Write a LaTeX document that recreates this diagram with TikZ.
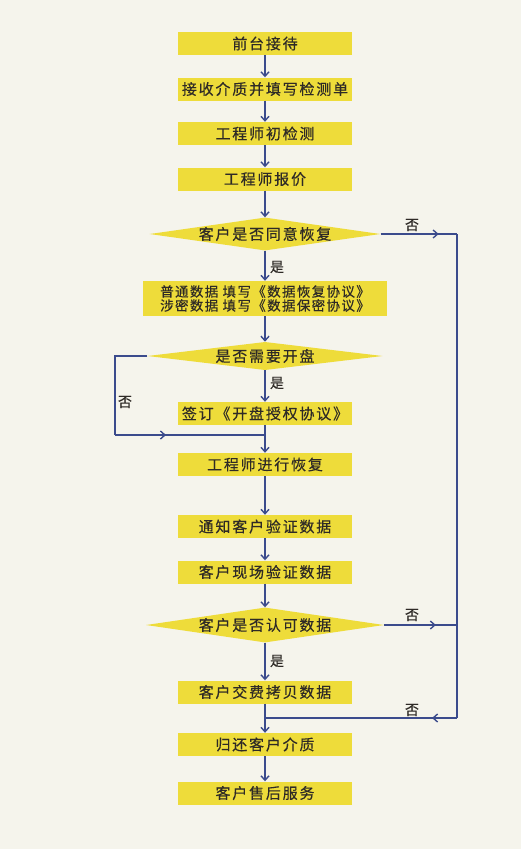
\documentclass[tikz,border=0pt]{standalone}
\usepackage{fontspec}
\usetikzlibrary{shapes.geometric,arrows.meta,decorations.markings}
\newfontfamily\cjk[LetterSpace=12,FakeBold=0.4]{Noto Sans CJK SC}
\newfontfamily\cjksmall[LetterSpace=10,FakeBold=0.4]{Noto Sans CJK SC}
\definecolor{bgc}{HTML}{F5F4EC}
\definecolor{boxy}{HTML}{EEDC3A}
\definecolor{linec}{HTML}{3B4B8C}
\definecolor{txt}{HTML}{2E2A26}
\begin{document}
\begin{tikzpicture}[x=1pt,y=-1pt,
  every node/.style={text=txt},
  stepbox/.style={fill=boxy, draw=none, minimum width=174pt, minimum height=23pt, inner sep=0pt, font=\cjk\fontsize{15}{16}\selectfont},
  widebox/.style={fill=boxy, draw=none, minimum width=244pt, minimum height=35pt, inner sep=0pt, align=center, font=\cjksmall\fontsize{13.5}{14}\selectfont},
  decide/.style={diamond, fill=boxy, draw=none, inner sep=0pt, aspect=7, font=\cjk\fontsize{15}{16}\selectfont},
  lbl/.style={font=\cjk\fontsize{14}{15}\selectfont, inner sep=0pt},
  conn/.style={draw=linec, line width=1.4pt},
  arr/.style={conn, -{Straight Barb[length=4.5pt,width=8pt]}},
  midarrow/.style={postaction={decorate}, decoration={markings, mark=at position #1 with {\arrow[linec, line width=1.4pt]{Straight Barb[length=4.5pt,width=8pt]}}}}
]
\fill[bgc] (0,0) rectangle (521,849);
\useasboundingbox (0,0) rectangle (521,849);

\node[stepbox] (b1) at (265,43.5) {前台接待};
\node[stepbox] (b2) at (265,89) {接收介质并填写检测单};
\node[stepbox] (b3) at (265,133.5) {工程师初检测};
\node[stepbox] (b4) at (265,179) {工程师报价};
\node[decide, minimum width=226pt, minimum height=32pt] (d1) at (265,234) {客户是否同意恢复};
\node[widebox] (b5) at (265,298.5) {普通数据 填写《数据恢复协议》\\涉密数据 填写《数据保密协议》};
\node[decide, minimum width=235pt, minimum height=27pt] (d2) at (265,356) {是否需要开盘};
\node[stepbox] (b6) at (265,413.5) {签订《开盘授权协议》};
\node[stepbox] (b7) at (265,464.5) {工程师进行恢复};
\node[stepbox] (b8) at (265,526.5) {通知客户验证数据};
\node[stepbox] (b9) at (265,572) {客户现场验证数据};
\node[decide, minimum width=238pt, minimum height=35pt] (d3) at (265,625) {客户是否认可数据};
\node[stepbox] (b10) at (265,692) {客户交费拷贝数据};
\node[stepbox] (b11) at (265,744.5) {归还客户介质};
\node[stepbox] (b12) at (265,793) {客户售后服务};

\coordinate (r1) at (457,234);
\coordinate (r2) at (457,625);
\coordinate (r3) at (457,718);
\coordinate (j2) at (265,718);
\coordinate (l1) at (115,356);
\coordinate (l2) at (115,435);
\coordinate (j1) at (265,435);

\draw[arr] (b1) -- (b2);
\draw[arr] (b2) -- (b3);
\draw[arr] (b3) -- (b4);
\draw[arr] (b4) -- (d1);
\draw[arr] (d1) -- (b5);
\draw[arr] (b5) -- (d2);
\draw[arr] (d2) -- (b6);
\draw[arr] (b6) -- (b7);
\draw[arr] (b7) -- (b8);
\draw[arr] (b8) -- (b9);
\draw[arr] (b9) -- (d3);
\draw[arr] (d3) -- (b10);
\draw[arr] (b10) -- (b11);
\draw[arr] (b11) -- (b12);

\draw[conn, midarrow=0.76] (d1.east) -- (r1);
\draw[conn] (r1) -- (r3);
\draw[conn, midarrow=0.71] (d3.east) -- (r2);
\draw[conn, midarrow=0.13] (r3) -- (j2);
\draw[conn] (d2.west) -- (l1) -- (l2);
\draw[conn, midarrow=0.34] (l2) -- (j1);

\node[lbl] (n1) at (412,225) {否};
\node[lbl] (y1) at (277,267) {是};
\node[lbl] (y2) at (277,383) {是};
\node[lbl] (n2) at (125,402) {否};
\node[lbl] (n3) at (412,615) {否};
\node[lbl] (y3) at (277,661) {是};
\node[lbl] (n4) at (412,710) {否};
\end{tikzpicture}
\end{document}
